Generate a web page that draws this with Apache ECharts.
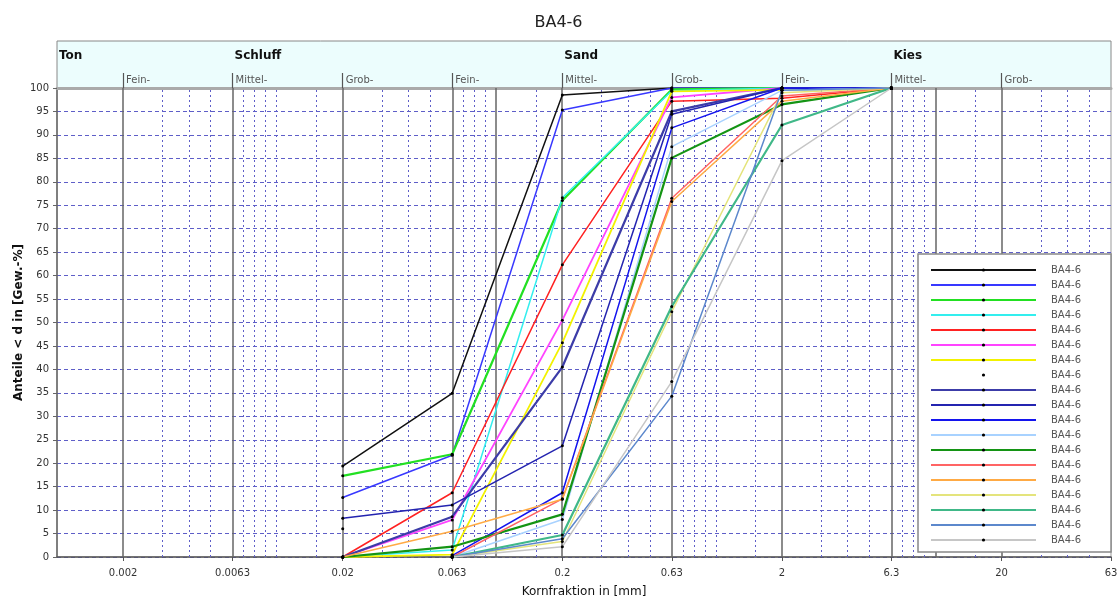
<!DOCTYPE html>
<html><head><meta charset="utf-8">
<script src="https://cdn.jsdelivr.net/npm/echarts@6/dist/echarts.min.js"></script>
<style>html,body{margin:0;padding:0;background:#fff}#c{width:1117px;height:597px}</style>
</head><body><div id="c"></div>
<script>
// grain sizes (mm) of the sieve points
const sieveSizes = [0.02, 0.063, 0.2, 0.63, 2, 6.3];
// x-axis tick labels (mm)
const tickLabels = ['0.002', '0.0063', '0.02', '0.063', '0.2', '0.63', '2', '6.3', '20', '63'];
const solidLines = [0.002, 0.0063, 0.02, 0.063, 0.1, 0.2, 0.63, 2, 6.3, 10, 20];
const dashedLines = [0.003, 0.004, 0.005, 0.007, 0.008, 0.009, 0.01, 0.015,
  0.03, 0.04, 0.05, 0.07, 0.08, 0.09, 0.15,
  0.3, 0.4, 0.5, 0.7, 0.8, 0.9, 1, 1.5,
  3, 4, 5, 7, 8, 9, 15, 30, 40, 50];
const zoneNames = ['Ton', 'Schluff', 'Sand', 'Kies'];
const zoneStarts = [0.001, 0.0063, 0.2, 6.3];
const subNames = ['Fein-', 'Mittel-', 'Grob-', 'Fein-', 'Mittel-', 'Grob-', 'Fein-', 'Mittel-', 'Grob-'];
const subStarts = [0.002, 0.0063, 0.02, 0.063, 0.2, 0.63, 2, 6.3, 20];
const xMin = 0.001, xMax = 63;

// passing percentages at sieveSizes (null = not measured)
const s01 = [19.4, 34.9, 98.5, 100, 100, 100];
const s02 = [12.7, 21.7, 95.3, 100, 100, 100];
const s03 = [17.3, 21.9, 76.0, 99.7, 100, 100];
const s04 = [0, 1.5, 76.6, 99.4, 100, 100];
const s05 = [0, 13.7, 62.3, 97.2, 97.8, 100];
const s06 = [0, 7.9, 50.5, 98.0, 100, 100];
const s07 = [0, 0.5, 45.7, 99.3, 99.6, 100];
const s08 = [6.0, null, null, null, null, 100];
const s09 = [0, 8.6, 40.5, 95.0, 100, 100];
const s10 = [8.25, 11.1, 23.7, 94.4, 100, 100];
const s11 = [null, 0.3, 13.7, 91.5, 100, 100];
const s12 = [null, 0, 8.0, 87.5, 99.5, 100];
const s13 = [0, 2.2, 9.1, 85.1, 96.5, 100];
const s14 = [null, 0, 12.4, 76.5, 98.3, 100];
const s15 = [0, 5.5, 12.3, 75.8, 97.2, 100];
const s16 = [null, 0, 3.3, 52.3, 99.0, 100];
const s17 = [null, 0, 4.7, 53.4, 92.1, 100];
const s18 = [null, 0, 3.9, 34.3, 99.5, 100];
const s19 = [null, 0, 2.2, 37.4, 84.5, 100];
const seriesValues = [s01, s02, s03, s04, s05, s06, s07, s08, s09, s10, s11, s12, s13, s14, s15, s16, s17, s18, s19];
const seriesName = 'BA4-6';
const colors = ['#111111', '#3838ff', '#22e022', '#33eeee', '#ff2222', '#ff44ff', '#f2f200', '#000000',
  '#3c3ca8', '#2424b0', '#1414ee', '#a8d2ff', '#149414', '#ff6464', '#ffaa44', '#e4e47c', '#40b888', '#5c88cc', '#c6c6c6'];
const widths = [1.5, 1.5, 2.2, 1.5, 1.5, 1.8, 1.8, 0, 2.2, 1.5, 1.5, 1.5, 2.2, 1.5, 1.5, 1.5, 2.2, 1.5, 1.5];

const L = Math.log10;
const findLabel = (v, vals, names) => {
  for (let i = 0; i < vals.length; i++) if (Math.abs(L(vals[i]) - v) < 1e-6) return names[i];
  return '';
};
const tickVals = tickLabels.map(Number);

const dataSeries = seriesValues.map((vals, i) => ({
  type: 'line',
  name: seriesName + '#' + (i + 1),
  xAxisIndex: 0, yAxisIndex: 0,
  data: sieveSizes.map((d, k) => [L(d), vals[k]]).filter(p => p[1] !== null),
  symbol: 'circle', symbolSize: 3,
  itemStyle: { color: '#000' },
  lineStyle: { color: colors[i], width: widths[i], opacity: widths[i] === 0 ? 0 : 1 },
  z: 5, silent: true
}));

const gridLines = [].concat(
  solidLines.map(v => ({ xAxis: L(v), lineStyle: { color: '#666', width: 1.5, type: 'solid' } })),
  dashedLines.map(v => ({ xAxis: L(v), lineStyle: { color: '#5e5ec8', width: 1, type: [2, 3] } }))
);

const option = {
  animation: false,
  backgroundColor: '#fff',
  textStyle: { fontFamily: 'DejaVu Sans' },
  title: { text: 'BA4-6', left: 'center', top: 10, textStyle: { fontSize: 16, fontWeight: 'normal', color: '#222', fontFamily: 'DejaVu Sans' } },
  grid: [
    { left: 57, right: 6, top: 88, bottom: 40, show: true, borderColor: '#999', borderWidth: 1, backgroundColor: '#fff', outerBoundsMode: 'none', containLabel: false },
    { left: 57, right: 6, top: 41, height: 47, show: true, borderColor: '#888', borderWidth: 1, backgroundColor: '#ecfdfd', outerBoundsMode: 'none', containLabel: false }
  ],
  xAxis: [
    { type: 'value', gridIndex: 0, min: L(xMin), max: L(xMax), position: 'bottom',
      name: 'Kornfraktion in [mm]', nameLocation: 'middle', nameGap: 29, nameMoveOverlap: false,
      nameTextStyle: { fontSize: 12, color: '#111' },
      axisLine: { show: true, onZero: false, lineStyle: { color: '#555', width: 1.5 } },
      axisTick: { show: true, length: 4, customValues: tickVals.map(L), lineStyle: { color: '#555' } },
      axisLabel: { customValues: tickVals.map(L), fontSize: 10, color: '#333', margin: 11,
        formatter: v => findLabel(v, tickVals, tickLabels) },
      splitLine: { show: false }
    },
    { type: 'value', gridIndex: 0, min: L(xMin), max: L(xMax), position: 'top',
      axisLine: { show: true, onZero: false, lineStyle: { color: '#aaa', width: 3 } },
      axisTick: { show: true, inside: false, length: 15, customValues: subStarts.map(L), lineStyle: { color: '#555', width: 1.2 } },
      axisLabel: { customValues: subStarts.map(L), fontSize: 10, color: '#555', margin: 3,
        align: 'left', verticalAlign: 'bottom', padding: [0, 0, 0, 3],
        formatter: v => findLabel(v, subStarts, subNames) },
      splitLine: { show: false }
    },
    { type: 'value', gridIndex: 1, min: L(xMin), max: L(xMax), position: 'top',
      axisLine: { show: false, onZero: false }, axisTick: { show: false }, splitLine: { show: false },
      axisLabel: { inside: true, customValues: zoneStarts.map(L), fontSize: 12, fontWeight: 'bold', color: '#111',
        margin: 9, align: 'left', verticalAlign: 'top', padding: [0, 0, 0, 2],
        formatter: v => findLabel(v, zoneStarts, zoneNames) }
    }
  ],
  yAxis: [
    { type: 'value', gridIndex: 0, min: 0, max: 100, interval: 5,
      name: 'Anteile < d in [Gew.-%]', nameLocation: 'middle', nameGap: 32, nameRotate: 90, nameMoveOverlap: false,
      nameTextStyle: { fontSize: 12, fontWeight: 'bold', color: '#111' },
      axisLine: { show: true, onZero: false, lineStyle: { color: '#666', width: 1.5 } },
      axisTick: { show: true, length: 4, lineStyle: { color: '#666' } },
      axisLabel: { fontSize: 10, color: '#333', margin: 8 },
      splitLine: { show: true, lineStyle: { color: '#5e5ec8', width: 1, type: [4, 3] } }
    },
    { type: 'value', gridIndex: 1, min: 0, max: 1, show: false, axisLine: { onZero: false } }
  ],
  legend: {
    orient: 'vertical', left: 918, top: 254,
    padding: [10, 30, 6, 12],
    backgroundColor: '#fff', borderColor: '#888', borderWidth: 1.5,
    itemWidth: 105, itemHeight: 4, itemGap: 3,
    selectedMode: false, z: 100, zlevel: 1,
    data: seriesValues.map((v, i) => seriesName + '#' + (i + 1)),
    formatter: n => n.split('#')[0],
    textStyle: { fontSize: 10, color: '#555', lineHeight: 12, padding: [0, 0, 0, 10] }
  },
  series: [
    { type: 'line', name: 'grid', xAxisIndex: 0, yAxisIndex: 0, data: [[L(xMin), 0]], showSymbol: false,
      lineStyle: { opacity: 0 }, z: 1, silent: true,
      markLine: { silent: true, symbol: ['none', 'none'], label: { show: false }, data: gridLines }
    }
  ].concat(dataSeries)
};

const chart = echarts.init(document.getElementById('c'), null, { renderer: 'canvas' });
chart.setOption(option);
</script>
</body></html>
